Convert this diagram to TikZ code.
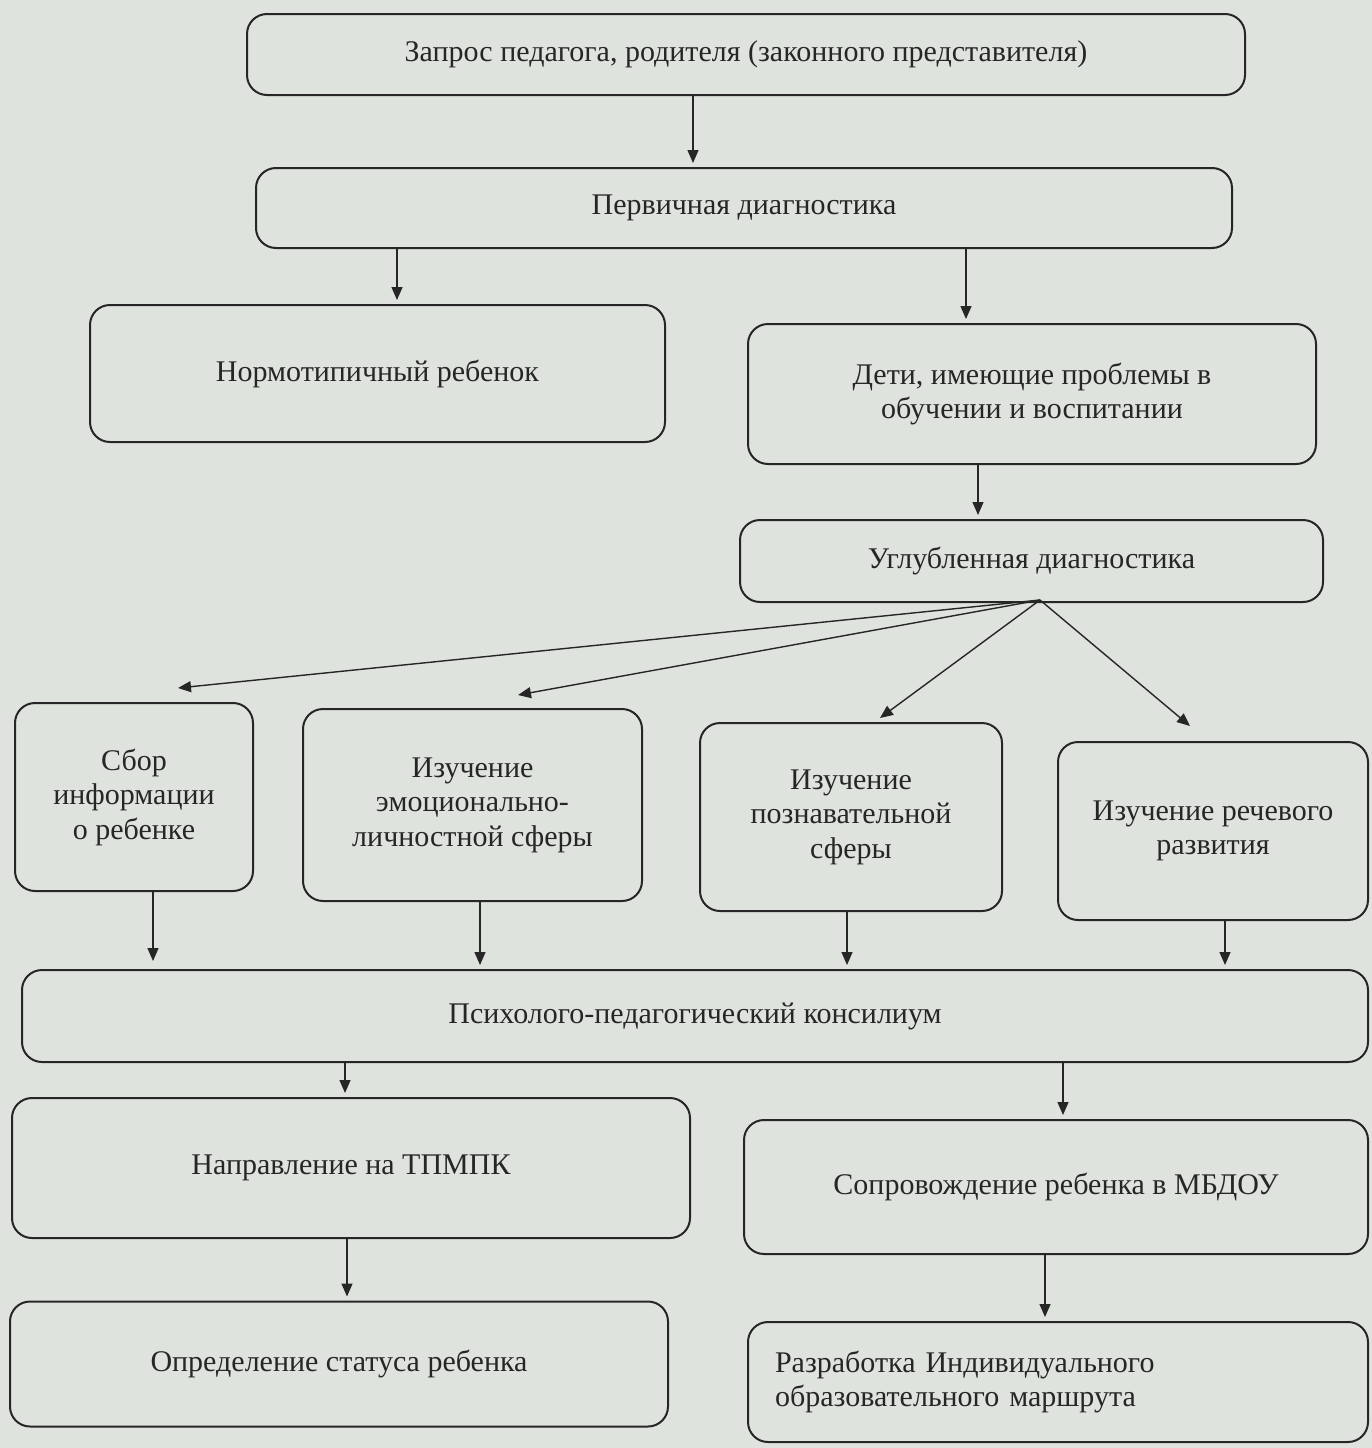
\documentclass[tikz,border=0pt]{standalone}
\usepackage{fontspec}
\setmainfont{Liberation Serif}
\usetikzlibrary{arrows.meta}
\definecolor{bg}{HTML}{DFE3DE}
\definecolor{ink}{HTML}{262626}
\begin{document}
\begin{tikzpicture}[x=1pt,y=-1pt,
  box/.style={draw=ink, line width=2pt, rounded corners=20pt, align=center, inner sep=4pt,
    font=\fontsize{30}{34.5}\selectfont, text=ink},
  arr/.style={draw=ink, line width=1.4pt, shorten >=4pt, -{Triangle[length=13pt,width=11pt]}}]
\fill[bg] (0,0) rectangle (1372,1448);
\useasboundingbox (0,0) rectangle (1372,1448);
\node[box, minimum width=998pt, minimum height=81pt] (b1) at (746,54.5) {Запрос педагога, родителя (законного представителя)};
\node[box, minimum width=976pt, minimum height=80pt] (b2) at (744,208) {Первичная диагностика};
\node[box, minimum width=575pt, minimum height=137pt] (b3) at (377.5,373.5) {Нормотипичный ребенок};
\node[box, minimum width=568pt, minimum height=140pt] (b4) at (1032,394) {Дети, имеющие проблемы в\\обучении и воспитании};
\node[box, minimum width=583pt, minimum height=82pt] (b5) at (1031.5,561) {Углубленная диагностика};
\node[box, minimum width=238pt, minimum height=188pt] (b6) at (134,797) {Сбор\\информации\\о ребенке};
\node[box, minimum width=339pt, minimum height=192pt] (b7) at (472.5,805) {Изучение\\эмоционально-\\личностной сферы};
\node[box, minimum width=302pt, minimum height=188pt] (b8) at (851,817) {Изучение\\познавательной\\сферы};
\node[box, minimum width=310pt, minimum height=178pt] (b9) at (1213,831) {Изучение речевого\\развития};
\node[box, minimum width=1346pt, minimum height=92pt] (b10) at (695,1016) {Психолого-педагогический консилиум};
\node[box, minimum width=678pt, minimum height=140pt] (b11) at (351,1168) {Направление на ТПМПК};
\node[box, minimum width=624pt, minimum height=134pt] (b12) at (1056,1187) {Сопровождение ребенка в МБДОУ};
\node[box, minimum width=658pt, minimum height=125pt] (b13) at (339,1364) {Определение статуса ребенка};
\node[box, minimum width=620pt, minimum height=120pt, text width=566pt, inner xsep=27pt, align=left] (b14) at (1058,1382) {Разработка Индивидуального\\образовательного маршрута};
% fan-out from Углубленная диагностика
\coordinate (f0) at (1040,600);
\coordinate (t6) at (178,688);
\coordinate (t7) at (518,695);
\coordinate (t8) at (880,718);
\coordinate (t9) at (1190,726);
\draw[arr] (b1.south -| 693,0) -- (b2.north -| 693,0);
\draw[arr] (b2.south -| 397,0) -- (b3.north -| 397,0);
\draw[arr] (b2.south -| 966,0) -- (b4.north -| 966,0);
\draw[arr] (b4.south -| 978,0) -- (b5.north -| 978,0);
\draw[arr, shorten >=0pt] (f0) -- (t6);
\draw[arr, shorten >=0pt] (f0) -- (t7);
\draw[arr, shorten >=0pt] (f0) -- (t8);
\draw[arr, shorten >=0pt] (f0) -- (t9);
\draw[arr, shorten >=8pt] (b6.south -| 153,0) -- (b10.north -| 153,0);
\draw[arr] (b7.south -| 480,0) -- (b10.north -| 480,0);
\draw[arr] (b8.south -| 847,0) -- (b10.north -| 847,0);
\draw[arr] (b9.south -| 1225,0) -- (b10.north -| 1225,0);
\draw[arr] (b10.south -| 345,0) -- (b11.north -| 345,0);
\draw[arr] (b10.south -| 1063,0) -- (b12.north -| 1063,0);
\draw[arr] (b11.south -| 347,0) -- (b13.north -| 347,0);
\draw[arr] (b12.south -| 1045,0) -- (b14.north -| 1045,0);
\end{tikzpicture}
\end{document}
